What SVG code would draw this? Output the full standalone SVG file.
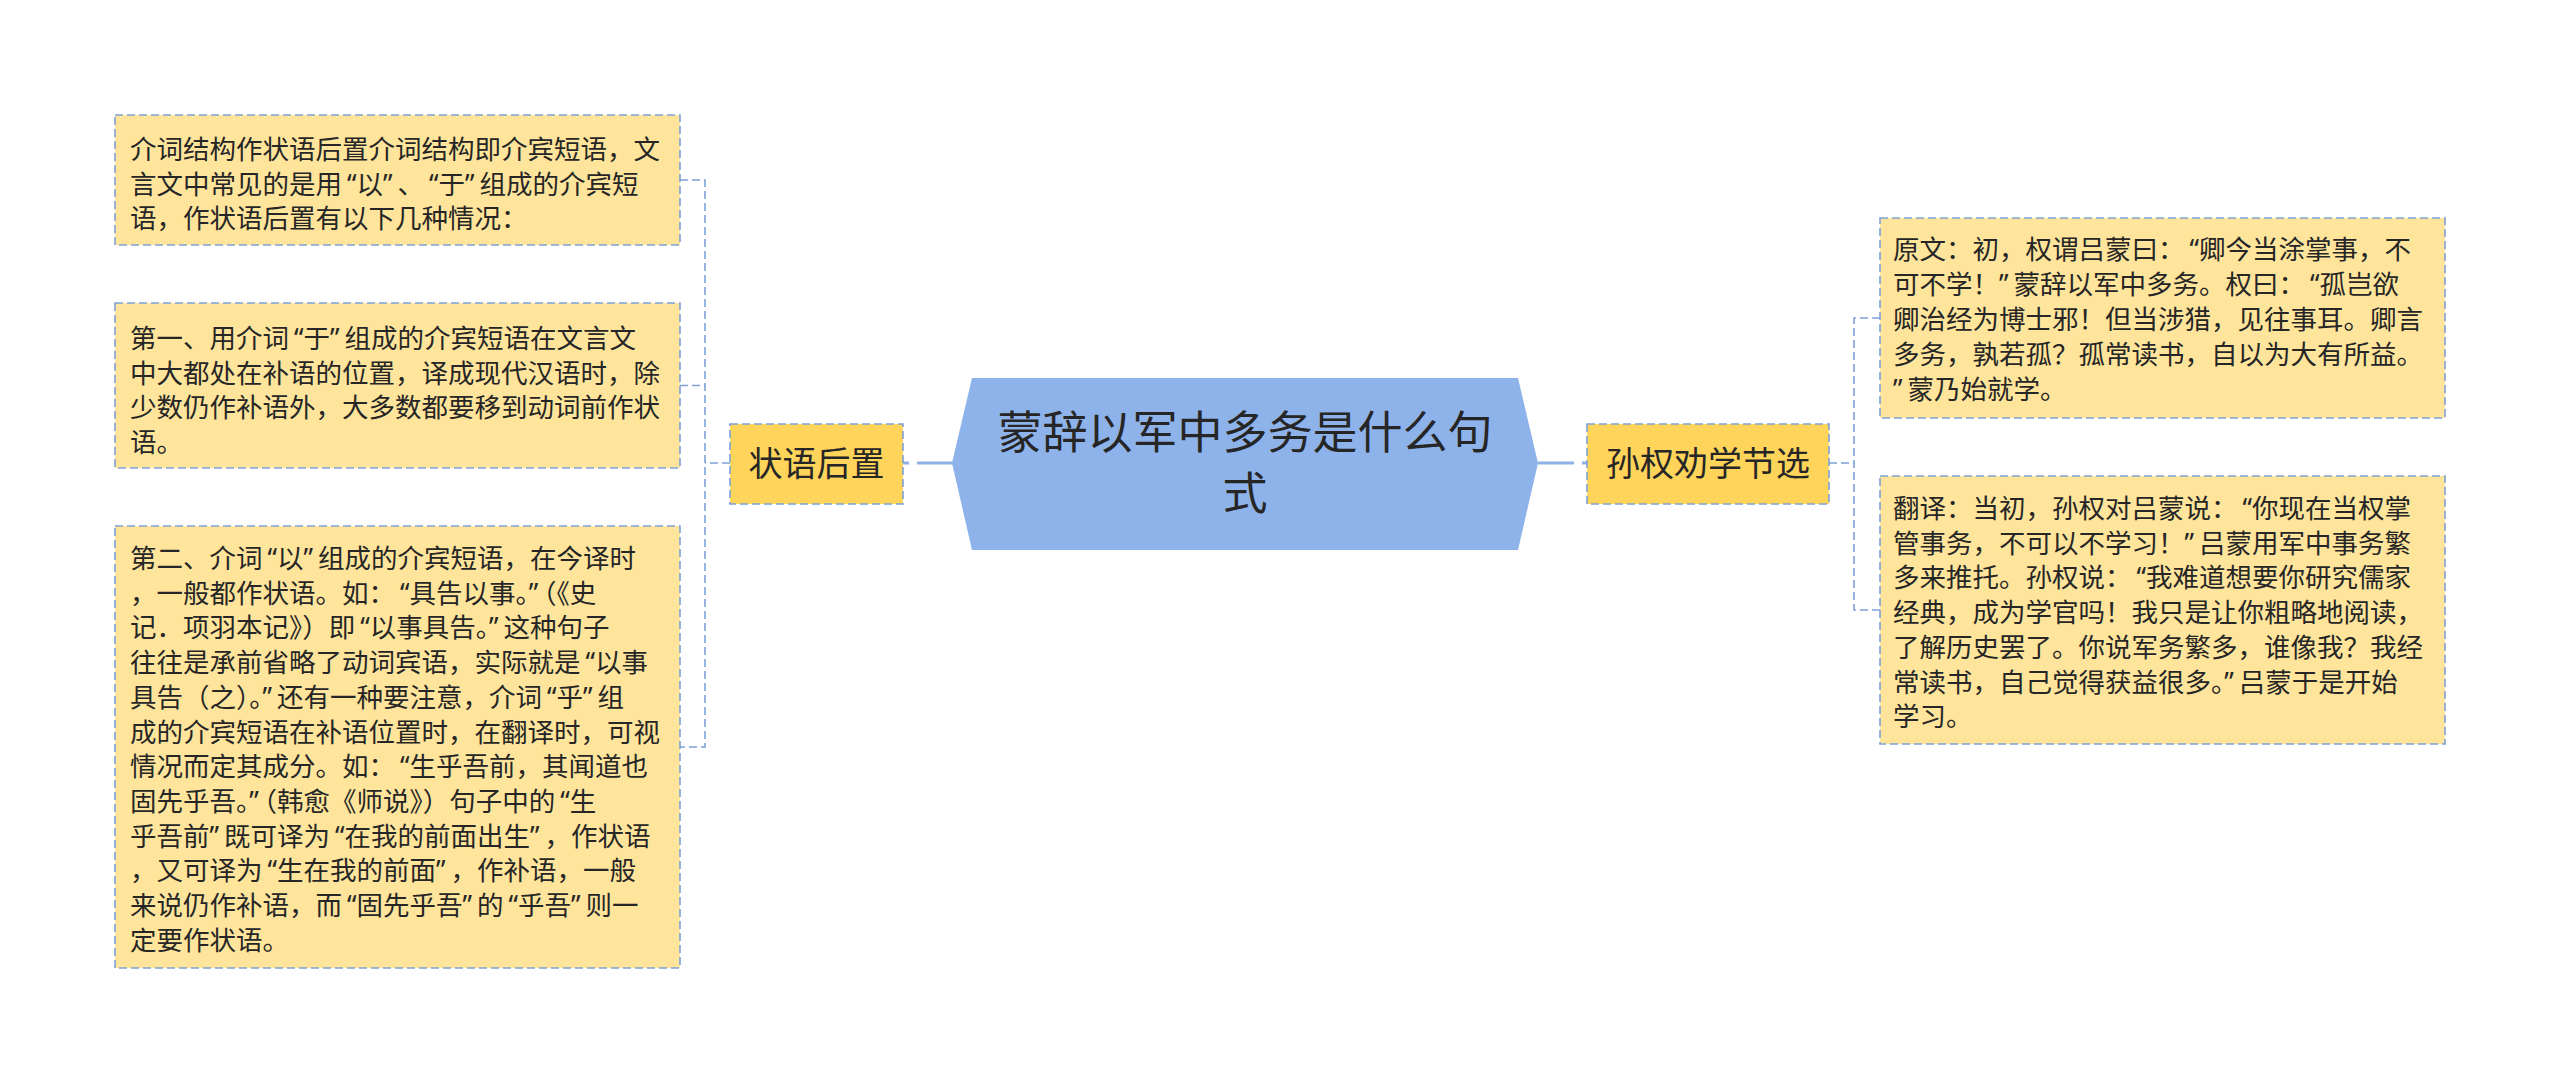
<svg xmlns="http://www.w3.org/2000/svg" width="2560" height="1084" viewBox="0 0 2560 1084">
<style>
text{font-family:"Noto Sans CJK SC","Noto Sans",sans-serif;fill:#262626}
.o,.c{font-family:"Noto Sans","Liberation Sans",sans-serif}
.c{letter-spacing:5px}
.leaf{fill:#FFE59C;stroke:#7EA2D6;stroke-width:1.6;stroke-dasharray:8 4}
.sub{fill:#FFD45A;stroke:#7EA2D6;stroke-width:1.6;stroke-dasharray:8 4}
.lt{font-size:26.5px}
.st{font-size:34px}
.thin{fill:none;stroke:#7EA2D6;stroke-width:1.6;stroke-dasharray:8 4}
.thick{fill:none;stroke:#8FB1E6;stroke-width:3.2;stroke-dasharray:36 8}
</style>
<rect width="2560" height="1084" fill="#ffffff"/>
<g id="connectors">
<line class="thick" x1="953" y1="463" x2="903" y2="463"/>
<line class="thick" x1="1538" y1="463" x2="1587" y2="463"/>
<path class="thin" d="M730 463 H705 M680 180 H705 V747 H680 M680 385.5 H705"/>
<path class="thin" d="M1829 463 H1854 M1880 318 H1854 V610 H1880"/>
</g>
<g id="root">
<polygon points="972,378 1518,378 1538,463 1518,550 972,550 952,463" fill="#8EB3EA"/>
<text x="1245" y="449" font-size="45" text-anchor="middle">蒙辞以军中多务是什么句</text>
<text x="1245" y="510" font-size="45" text-anchor="middle">式</text>
</g>
<g id="n-zhuangyu">
<rect class="sub" x="730" y="424" width="173" height="80"/>
<text class="st" x="816.5" y="476" text-anchor="middle">状语后置</text>
</g>
<g id="n-sunquan">
<rect class="sub" x="1587" y="424" width="242" height="80"/>
<text class="st" x="1708" y="476" text-anchor="middle">孙权劝学节选</text>
</g>
<g id="leaf-l1">
<rect class="leaf" x="115" y="115" width="565" height="130"/>
<text class="lt" x="130"><tspan x="130" y="159">介词结构作状语后置介词结构即介宾短语，文</tspan><tspan x="130" y="193.5">言文中常见的是用<tspan class="o" dx="5">“</tspan>以<tspan class="c">”</tspan>、<tspan class="o" dx="5">“</tspan>于<tspan class="c">”</tspan>组成的介宾短</tspan><tspan x="130" y="228">语，作状语后置有以下几种情况：</tspan></text>
</g>
<g id="leaf-l2">
<rect class="leaf" x="115" y="303" width="565" height="165"/>
<text class="lt" x="130"><tspan x="130" y="348">第一、用介词<tspan class="o" dx="5">“</tspan>于<tspan class="c">”</tspan>组成的介宾短语在文言文</tspan><tspan x="130" y="382.5">中大都处在补语的位置，译成现代汉语时，除</tspan><tspan x="130" y="417">少数仍作补语外，大多数都要移到动词前作状</tspan><tspan x="130" y="451.5">语。</tspan></text>
</g>
<g id="leaf-l3">
<rect class="leaf" x="115" y="526" width="565" height="442"/>
<text class="lt" x="130"><tspan x="130" y="568">第二、介词<tspan class="o" dx="5">“</tspan>以<tspan class="c">”</tspan>组成的介宾短语，在今译时</tspan><tspan x="130" y="602.7">，一般都作状语。如：<tspan class="o" dx="5">“</tspan>具告以事。<tspan class="c">”</tspan>（《史</tspan><tspan x="130" y="637.4">记．项羽本记》）即<tspan class="o" dx="5">“</tspan>以事具告。<tspan class="c">”</tspan>这种句子</tspan><tspan x="130" y="672.1">往往是承前省略了动词宾语，实际就是<tspan class="o" dx="5">“</tspan>以事</tspan><tspan x="130" y="706.8">具告（之）。<tspan class="c">”</tspan>还有一种要注意，介词<tspan class="o" dx="5">“</tspan>乎<tspan class="c">”</tspan>组</tspan><tspan x="130" y="741.5">成的介宾短语在补语位置时，在翻译时，可视</tspan><tspan x="130" y="776.2">情况而定其成分。如：<tspan class="o" dx="5">“</tspan>生乎吾前，其闻道也</tspan><tspan x="130" y="810.9">固先乎吾。<tspan class="c">”</tspan>（韩愈《师说》）句子中的<tspan class="o" dx="5">“</tspan>生</tspan><tspan x="130" y="845.6">乎吾前<tspan class="c">”</tspan>既可译为<tspan class="o" dx="5">“</tspan>在我的前面出生<tspan class="c">”</tspan>，作状语</tspan><tspan x="130" y="880.3">，又可译为<tspan class="o" dx="5">“</tspan>生在我的前面<tspan class="c">”</tspan>，作补语，一般</tspan><tspan x="130" y="915">来说仍作补语，而<tspan class="o" dx="5">“</tspan>固先乎吾<tspan class="c">”</tspan>的<tspan class="o" dx="5">“</tspan>乎吾<tspan class="c">”</tspan>则一</tspan><tspan x="130" y="949.7">定要作状语。</tspan></text>
</g>
<g id="leaf-r1">
<rect class="leaf" x="1880" y="218" width="565" height="200"/>
<text class="lt" x="1893"><tspan x="1893" y="259">原文：初，权谓吕蒙曰：<tspan class="o" dx="5">“</tspan>卿今当涂掌事，不</tspan><tspan x="1893" y="294">可不学！<tspan class="c">”</tspan>蒙辞以军中多务。权曰：<tspan class="o" dx="5">“</tspan>孤岂欲</tspan><tspan x="1893" y="329">卿治经为博士邪！但当涉猎，见往事耳。卿言</tspan><tspan x="1893" y="364">多务，孰若孤？孤常读书，自以为大有所益。</tspan><tspan x="1893" y="399"><tspan class="c">”</tspan>蒙乃始就学。</tspan></text>
</g>
<g id="leaf-r2">
<rect class="leaf" x="1880" y="476" width="565" height="268"/>
<text class="lt" x="1893"><tspan x="1893" y="518">翻译：当初，孙权对吕蒙说：<tspan class="o" dx="5">“</tspan>你现在当权掌</tspan><tspan x="1893" y="552.7">管事务，不可以不学习！<tspan class="c">”</tspan>吕蒙用军中事务繁</tspan><tspan x="1893" y="587.4">多来推托。孙权说：<tspan class="o" dx="5">“</tspan>我难道想要你研究儒家</tspan><tspan x="1893" y="622.1">经典，成为学官吗！我只是让你粗略地阅读，</tspan><tspan x="1893" y="656.8">了解历史罢了。你说军务繁多，谁像我？我经</tspan><tspan x="1893" y="691.5">常读书，自己觉得获益很多。<tspan class="c">”</tspan>吕蒙于是开始</tspan><tspan x="1893" y="726.2">学习。</tspan></text>
</g>
</svg>
